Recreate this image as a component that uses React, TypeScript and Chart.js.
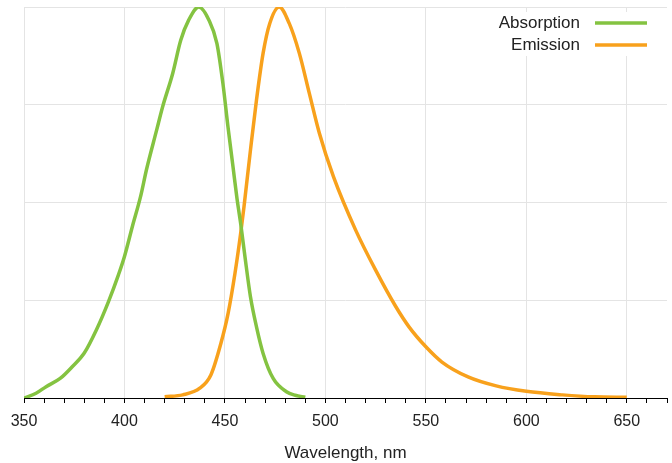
import React, { useEffect, useRef } from "react";
import { Chart, registerables } from "chart.js";

Chart.register(...registerables);

const absWavelength = [350, 356, 361, 368, 374, 380, 386, 392, 397, 400, 404, 408, 411, 416, 419, 424, 428, 432, 437, 442, 446, 449, 451.5, 454, 456, 458, 460, 462.7, 465.7, 469, 474, 480.6, 485, 490];
const absValue = [0, 0.012, 0.029, 0.05, 0.08, 0.115, 0.174, 0.246, 0.315, 0.362, 0.44, 0.515, 0.585, 0.685, 0.745, 0.83, 0.915, 0.967, 1.0, 0.967, 0.907, 0.804, 0.694, 0.592, 0.51, 0.44, 0.36, 0.259, 0.182, 0.114, 0.05, 0.016, 0.007, 0.002];

const emWavelength = [420, 429, 437.5, 443, 448, 451.6, 455, 457.8, 459.5, 462.7, 465.7, 469, 472.3, 477, 482, 487, 492, 497, 504, 515, 525, 535, 541.6, 550, 558, 571, 585, 600, 618, 634, 650];
const emValue = [0.003, 0.008, 0.025, 0.059, 0.14, 0.217, 0.319, 0.42, 0.49, 0.634, 0.762, 0.882, 0.958, 1.0, 0.958, 0.882, 0.779, 0.677, 0.566, 0.43, 0.327, 0.234, 0.182, 0.131, 0.092, 0.054, 0.031, 0.017, 0.008, 0.003, 0.002];

const seriesNames = ["Absorption", "Emission"];
const seriesColors = ["#84c341", "#f8a11c"];
const xTitle = "Wavelength, nm";

const FONT = "'Liberation Sans', Arial, sans-serif";

const legendPlugin = {
  id: "customLegend",
  afterDraw(chart: any) {
    const ctx = chart.ctx;
    ctx.save();
    ctx.fillStyle = "#ffffff";
    ctx.fillRect(488, 12, 170, 44);
    ctx.font = `17px ${FONT}`;
    ctx.textAlign = "right";
    ctx.textBaseline = "middle";
    const rows = [23, 45];
    seriesNames.forEach((name, i) => {
      ctx.fillStyle = "#222222";
      ctx.fillText(name, 580, rows[i]);
      ctx.strokeStyle = seriesColors[i];
      ctx.lineWidth = 3.5;
      ctx.beginPath();
      ctx.moveTo(595, rows[i]);
      ctx.lineTo(647, rows[i]);
      ctx.stroke();
    });
    ctx.restore();
  },
};

export default function App() {
  const ref = useRef<HTMLCanvasElement | null>(null);
  useEffect(() => {
    if (!ref.current) return;
    const chart = new Chart(ref.current, {
      type: "line",
      data: {
        datasets: [
          {
            label: seriesNames[0],
            data: absWavelength.map((x, i) => ({ x, y: absValue[i] })),
            borderColor: seriesColors[0],
            borderWidth: 3.5,
            pointRadius: 0,
            cubicInterpolationMode: "monotone",
          },
          {
            label: seriesNames[1],
            data: emWavelength.map((x, i) => ({ x, y: emValue[i] })),
            borderColor: seriesColors[1],
            borderWidth: 3.5,
            pointRadius: 0,
            cubicInterpolationMode: "monotone",
          },
        ],
      },
      options: {
        responsive: false,
        animation: false,
        devicePixelRatio: 1,
        layout: { padding: { top: 7, right: 5, left: 0, bottom: 0 } },
        plugins: { legend: { display: false }, tooltip: { enabled: false } },
        scales: {
          x: {
            type: "linear",
            min: 350,
            max: 670,
            afterFit: (s: any) => {
              s.height = 65;
              s.paddingLeft = 0;
              s.paddingRight = 0;
            },
            ticks: {
              stepSize: 10,
              autoSkip: false,
              maxRotation: 0,
              padding: 9,
              color: "#222222",
              font: { family: FONT, size: 16 },
              callback: (v: any) => (Number(v) % 50 === 0 ? String(v) : ""),
            },
            grid: {
              color: (c: any) => (c.tick && c.tick.value % 50 === 0 ? "#e4e4e4" : "rgba(0,0,0,0)"),
              tickColor: "#000000",
              tickLength: 5,
              lineWidth: 1,
            },
            border: { display: true, color: "#000000", width: 1 },
            title: {
              display: true,
              text: xTitle,
              color: "#222222",
              font: { family: FONT, size: 17, lineHeight: 1.1 },
              padding: { top: 0, bottom: 0 },
            },
          },
          y: {
            type: "linear",
            min: 0,
            max: 1,
            afterFit: (s: any) => {
              s.width = 24;
            },
            ticks: { display: false, stepSize: 0.25 },
            grid: { color: "#e4e4e4", drawTicks: false },
            border: { display: false },
          },
        },
      },
      plugins: [legendPlugin],
    } as any);
    return () => chart.destroy();
  }, []);
  return (
    <div style={{ position: "absolute", left: 0, top: 0, width: 672, height: 463, background: "#fff" }}>
      <canvas ref={ref} width={672} height={463} />
    </div>
  );
}
